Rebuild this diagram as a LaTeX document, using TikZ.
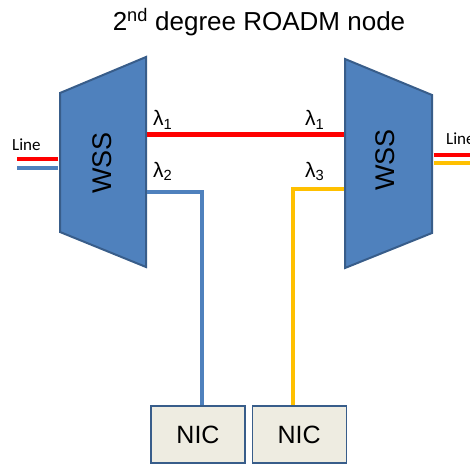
\documentclass[tikz,border=0pt]{standalone}
\usepackage{fontspec}
\setmainfont{Liberation Sans}
\newfontfamily\linefont{Carlito}
\usepackage{tikz}
\usetikzlibrary{positioning, calc}
\definecolor{wssblue}{HTML}{4F81BD}
\definecolor{wssedge}{HTML}{385D8A}
\definecolor{lightred}{HTML}{FF0000}
\definecolor{ambergold}{HTML}{FFC000}
\definecolor{nicfill}{HTML}{EEECE1}

\begin{document}
\begin{tikzpicture}[
    x=1pt, y=-1pt,
    wss/.style={
        draw=wssedge, line width=2pt, fill=wssblue,
        line join=miter,
    },
    fiber/.style={
        draw=#1, line width=4pt,
    },
    nicbox/.style={
        draw=wssedge, line width=1.2pt, fill=nicfill,
        rectangle, minimum width=94pt, minimum height=57pt,
        inner sep=0pt, font=\fontsize{25}{30}\selectfont,
    },
    lambda/.style={
        font=\fontsize{21}{24}\selectfont, anchor=base west, inner sep=0pt,
    },
    linelabel/.style={
        font=\linefont\fontsize{17}{20}\selectfont, anchor=base west, inner sep=0pt,
    },
]
\useasboundingbox (0,0) rectangle (470,465);

% title
\node[font=\fontsize{26}{30}\selectfont] (title) at (259,22) {2\textsuperscript{nd} degree ROADM node};

% the two WSS blocks
\draw[wss] (60,93) -- (146,57) -- (146,267) -- (60,232) -- cycle;
\draw[wss] (345,59) -- (432,95) -- (432,233) -- (345,268) -- cycle;
\node[rotate=90, font=\fontsize{27}{30}\selectfont] (wssL) at (102,163) {WSS};
\node[rotate=90, font=\fontsize{27}{30}\selectfont] (wssR) at (385,160) {WSS};

% ports
\coordinate (lin1) at (58,159);
\coordinate (lin2) at (58,168);
\coordinate (lout1) at (147,135);
\coordinate (lout2) at (147,192);
\coordinate (rin1) at (344,135);
\coordinate (rin3) at (344,189);
\coordinate (rout1) at (434,155);
\coordinate (rout3) at (434,163);
\coordinate (lend1) at (17,159);
\coordinate (lend2) at (17,168);
\coordinate (rend1) at (475,155);
\coordinate (rend3) at (475,163);

% NIC boxes
\node[nicbox] (nic1) at (198,434.5) {NIC};
\node[nicbox, right=6pt of nic1] (nic2) {NIC};

% fibers
\draw[fiber=lightred, line width=5pt] (lout1) -- (rin1);
\draw[fiber=wssblue] (lout2) -| ([xshift=4pt]nic1.north);
\draw[fiber=ambergold] (rin3) -| ([xshift=-6pt]nic2.north);
\draw[fiber=lightred] (lend1) -- (lin1);
\draw[fiber=wssblue] (lend2) -- (lin2);
\draw[fiber=lightred] (rout1) -- (rend1);
\draw[fiber=ambergold] (rout3) -- (rend3);

% labels
\node[linelabel] (lineL) at (12,150) {Line};
\node[linelabel] (lineR) at (446,144) {Line};
\node[lambda] (lamL1) at (153,126) {λ\textsubscript{1}};
\node[lambda] (lamL2) at (153,177) {λ\textsubscript{2}};
\node[lambda] (lamR1) at (305,126) {λ\textsubscript{1}};
\node[lambda] (lamR3) at (305,177) {λ\textsubscript{3}};
\end{tikzpicture}
\end{document}
